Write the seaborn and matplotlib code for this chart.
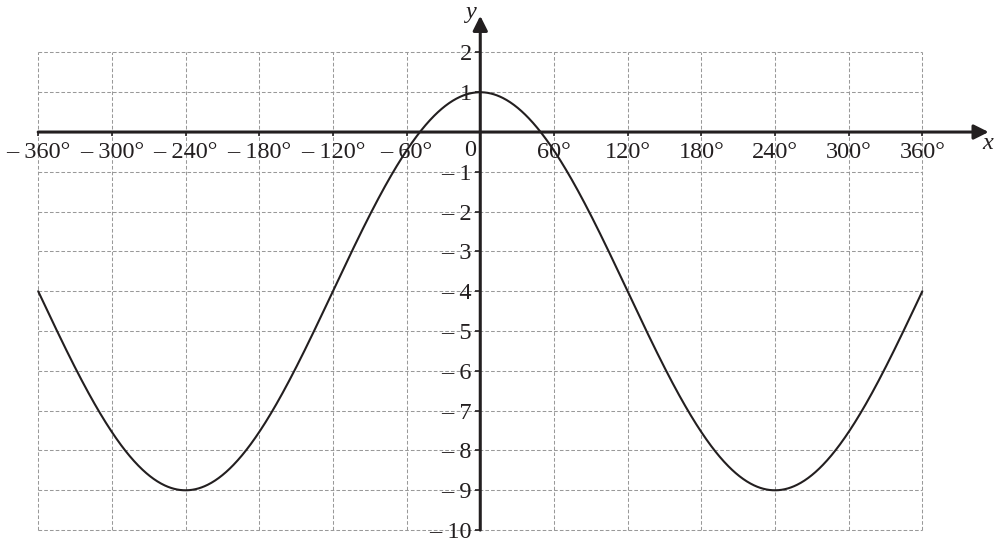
import numpy as np
import pandas as pd
import matplotlib
matplotlib.use('Agg')
import matplotlib.pyplot as plt
import seaborn as sns

# Values: max 1 at 0°, min -9 at ±240°, -4 at ±360°
y_max = 1
y_min = -9
period_deg = 480

x_ticks = [-360, -300, -240, -180, -120, -60, 60, 120, 180, 240, 300, 360]
x_tick_labels = ['– 360°', '– 300°', '– 240°', '– 180°', '– 120°', '– 60°',
                 '60°', '120°', '180°', '240°', '300°', '360°']
y_ticks = [2, 1, -1, -2, -3, -4, -5, -6, -7, -8, -9, -10]
y_tick_labels = ['2', '1', '– 1', '– 2', '– 3', '– 4', '– 5', '– 6', '– 7', '– 8', '– 9', '– 10']

x_vals = np.linspace(-360, 360, 1441)
amp = (y_max - y_min) / 2
mid = (y_max + y_min) / 2
curve = pd.DataFrame({'x': x_vals,
                      'y': amp * np.cos(np.radians(x_vals) * 360 / period_deg) + mid})

sns.set_style('white')
plt.rcParams['font.family'] = ['Liberation Serif', 'DejaVu Serif']
ink = '#231f20'

fig = plt.figure(figsize=(10.04, 5.5), dpi=100)
ax = fig.add_axes([0, 0, 1, 1])
ax.set_xlim(-391.1, 426.5)
ax.set_ylim(-10.5, 3.317)
ax.axis('off')

# dashed grid
grid_x = list(range(-360, 361, 60))
grid_y = list(range(-10, 3))
ax.vlines(grid_x, -10, 2, colors='#999999', linestyles=(0, (3.5, 2)), linewidth=0.75, zorder=1)
ax.hlines(grid_y, -360, 360, colors='#999999', linestyles=(0, (3.5, 2)), linewidth=0.75, zorder=1)

# curve
sns.lineplot(data=curve, x='x', y='y', ax=ax, color=ink, linewidth=1.5, zorder=4)

# axes with arrows
ax.annotate('', xy=(414, 0), xytext=(-360, 0),
            arrowprops=dict(arrowstyle='-|>', color=ink, lw=2.2, mutation_scale=22,
                            shrinkA=0, shrinkB=0), zorder=5)
ax.annotate('', xy=(0, 2.92), xytext=(0, -10),
            arrowprops=dict(arrowstyle='-|>', color=ink, lw=2.2, mutation_scale=22,
                            shrinkA=0, shrinkB=0), zorder=5)

# tick marks
ax.vlines(x_ticks, -0.1, 0, colors=ink, linewidth=1.2, zorder=5)
ax.hlines(y_ticks, -4, 0, colors=ink, linewidth=1.2, zorder=5)

fs = 17.5
for xv, lab in zip(x_ticks, x_tick_labels):
    ax.text(xv, -0.66, lab, ha='center', va='baseline', fontsize=fs, color=ink, zorder=6)
for yv, lab in zip(y_ticks, y_tick_labels):
    ax.text(-7, yv - 0.2, lab, ha='right', va='baseline', fontsize=fs, color=ink, zorder=6)
ax.text(-8.5, -0.6, '0', ha='center', va='baseline', fontsize=fs, color=ink, zorder=6)

ax.text(413, -0.28, 'x', ha='center', va='center', fontsize=fs, style='italic', color=ink)
ax.text(-8, 3.0, 'y', ha='center', va='center', fontsize=fs, style='italic', color=ink)

fig.savefig('out.png', dpi=100)
